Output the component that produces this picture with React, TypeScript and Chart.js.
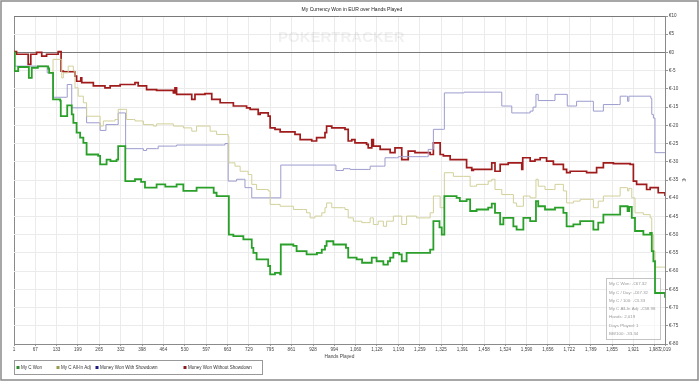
import React, { useEffect, useRef } from 'react';
import { Chart, registerables } from 'chart.js';
Chart.register(...registerables);

const chartTitle = 'My Currency Won in EUR over Hands Played';
const xAxisTitle = 'Hands Played';
const watermark = 'POKERTRACKER';

const xTickValues = [1, 67, 133, 199, 265, 332, 398, 464, 530, 597, 663, 729, 795, 861, 928, 994, 1060, 1126, 1193, 1259, 1325, 1391, 1458, 1524, 1590, 1656, 1722, 1789, 1855, 1921, 1987, 2019];

const seriesNames = ['My C Won', 'My C All-In Adj', 'Money Won With Showdown', 'Money Won Without Showdown'];
const lineColors = ['#2aa02a', '#d2d09a', '#9c9ccf', '#a01b1b'];
const swatchColors = ['#2e8b2e', '#9c9c4c', '#1c1c80', '#8c1c1c'];
const lineWidths = [1.8, 1, 1, 1.7];

const wonHands = [1, 3, 14, 45, 47, 54, 56, 66, 75, 97, 107, 110, 121, 122, 144, 146, 162, 166, 175, 180, 185, 195, 206, 216, 226, 262, 268, 283, 288, 300, 319, 324, 345, 346, 376, 395, 407, 443, 470, 505, 526, 545, 567, 608, 620, 629, 665, 667, 681, 712, 738, 743, 753, 784, 789, 795, 810, 826, 828, 867, 877, 908, 929, 940, 955, 965, 970, 985, 991, 1022, 1030, 1037, 1063, 1080, 1094, 1110, 1125, 1146, 1160, 1167, 1177, 1195, 1203, 1218, 1285, 1291, 1301, 1317, 1320, 1327, 1334, 1335, 1373, 1383, 1404, 1415, 1425, 1435, 1466, 1471, 1482, 1487, 1492, 1502, 1508, 1518, 1539, 1549, 1559, 1575, 1580, 1595, 1601, 1611, 1619, 1626, 1642, 1647, 1673, 1678, 1694, 1704, 1714, 1725, 1735, 1756, 1792, 1797, 1807, 1812, 1823, 1828, 1874, 1880, 1900, 1903, 1908, 1911, 1916, 1926, 1942, 1952, 1973, 1978, 1983, 1988, 2014, 2019];
const wonValues = [0, -5.1, -4.0, -4.0, -7.0, -7.0, -4.2, -4.2, -3.8, -3.8, -4.4, -5.6, -5.6, -12.9, -13.2, -17.5, -17.5, -14.5, -14.5, -17.0, -19.3, -22.0, -23.4, -24.8, -28.0, -28.4, -30.7, -30.7, -29.4, -29.8, -29.4, -25.7, -25.7, -35.3, -34.8, -35.5, -37.1, -36.2, -36.8, -36.2, -38.0, -38.0, -37.1, -37.1, -38.5, -39.4, -39.4, -50.0, -50.4, -51.3, -53.6, -55.0, -56.8, -56.8, -58.6, -60.9, -60.5, -60.9, -52.7, -53.1, -54.5, -55.4, -55.4, -55.0, -54.1, -53.1, -51.8, -51.8, -52.7, -52.7, -53.6, -56.3, -56.8, -57.7, -57.7, -56.3, -57.3, -58.2, -57.3, -56.3, -55.0, -55.4, -57.3, -55.0, -55.0, -54.1, -46.3, -46.3, -48.0, -50.0, -50.0, -39.4, -39.9, -40.8, -40.3, -43.5, -43.5, -43.1, -43.1, -42.6, -41.5, -41.5, -44.0, -44.0, -47.2, -45.4, -45.4, -47.7, -48.6, -48.6, -45.4, -45.4, -46.3, -46.3, -40.8, -42.2, -42.2, -43.1, -43.1, -42.6, -42.6, -44.0, -47.7, -47.7, -47.2, -46.3, -46.3, -48.6, -48.6, -46.7, -46.7, -44.5, -44.5, -42.2, -42.2, -43.5, -42.4, -42.4, -45.4, -49.0, -49.0, -50.0, -49.5, -54.5, -57.3, -66.0, -66.0, -67.3];

const allInHands = [1, 3, 14, 45, 47, 54, 56, 66, 75, 97, 107, 110, 121, 122, 144, 149, 154, 164, 169, 180, 185, 190, 200, 211, 216, 221, 226, 262, 268, 278, 309, 314, 319, 324, 345, 350, 371, 376, 392, 402, 423, 433, 443, 485, 495, 516, 526, 547, 552, 567, 598, 609, 619, 629, 660, 665, 667, 676, 686, 702, 722, 727, 733, 738, 753, 784, 789, 795, 815, 826, 857, 867, 898, 908, 919, 929, 934, 950, 955, 965, 970, 981, 986, 1022, 1027, 1037, 1043, 1053, 1063, 1079, 1094, 1105, 1110, 1115, 1125, 1130, 1141, 1146, 1156, 1167, 1177, 1198, 1203, 1218, 1234, 1249, 1280, 1291, 1301, 1311, 1322, 1332, 1335, 1353, 1363, 1394, 1415, 1425, 1435, 1466, 1471, 1482, 1487, 1492, 1508, 1513, 1539, 1549, 1559, 1575, 1580, 1595, 1601, 1611, 1619, 1626, 1642, 1647, 1673, 1678, 1694, 1704, 1709, 1714, 1725, 1735, 1756, 1792, 1797, 1807, 1812, 1823, 1828, 1874, 1880, 1900, 1903, 1907, 1911, 1916, 1926, 1942, 1952, 1973, 1978, 1983, 1988, 2014, 2019];
const allInValues = [0, -5.1, -4.0, -4.0, -7.0, -7.0, -4.2, -4.2, -3.8, -3.8, -4.4, -5.6, -5.6, -1.9, -1.9, -7.0, -5.6, -5.6, -3.75, -3.75, -5.1, -9.7, -12.0, -12.0, -13.8, -13.8, -17.5, -17.5, -20.2, -18.8, -18.8, -18.4, -18.4, -15.6, -15.6, -18.4, -18.4, -18.8, -18.8, -19.8, -19.8, -20.2, -19.6, -19.6, -20.2, -20.2, -20.7, -20.7, -21.6, -20.2, -20.2, -21.6, -21.6, -22.5, -22.5, -23.0, -30.3, -30.3, -31.2, -32.6, -32.6, -33.5, -33.5, -36.2, -37.6, -37.6, -38.0, -41.7, -41.7, -42.2, -42.2, -43.1, -43.1, -44.0, -45.4, -45.4, -44.9, -44.9, -44.0, -42.6, -41.3, -41.3, -42.6, -42.6, -43.1, -45.4, -45.4, -46.3, -46.3, -46.7, -46.7, -45.4, -45.4, -47.2, -47.2, -46.3, -46.3, -47.7, -46.3, -46.3, -44.9, -44.9, -47.2, -44.9, -44.9, -45.4, -45.4, -44.0, -39.4, -39.4, -42.6, -42.6, -33.0, -33.0, -34.0, -34.0, -36.7, -36.7, -36.2, -36.2, -35.3, -34.8, -34.8, -37.6, -37.6, -39.0, -39.0, -41.3, -42.2, -42.2, -39.4, -39.4, -39.9, -39.9, -34.8, -36.7, -36.7, -37.6, -37.6, -36.2, -36.2, -38.0, -38.0, -41.3, -41.3, -40.8, -40.3, -40.3, -42.6, -42.6, -40.8, -40.8, -39.4, -39.4, -37.1, -37.1, -38.0, -37.3, -37.3, -39.9, -44.0, -44.0, -44.5, -45.4, -50.0, -54.5, -58.9, -58.9, -59.0];

const showdownHands = [1, 4, 102, 104, 121, 123, 164, 166, 175, 180, 221, 226, 266, 268, 283, 286, 319, 324, 345, 347, 397, 402, 412, 443, 448, 495, 505, 650, 655, 665, 691, 712, 717, 733, 738, 826, 828, 996, 999, 1012, 1022, 1037, 1043, 1099, 1105, 1146, 1151, 1187, 1192, 1280, 1285, 1296, 1301, 1332, 1335, 1394, 1396, 1508, 1513, 1539, 1544, 1595, 1601, 1610, 1619, 1626, 1673, 1678, 1694, 1716, 1740, 1745, 1792, 1797, 1823, 1828, 1874, 1880, 1900, 1903, 1907, 1973, 1975, 1978, 1983, 1988, 2019];
const showdownValues = [0, -3.75, -3.75, -5.6, -5.6, -12.3, -12.3, -8.8, -8.8, -15.2, -15.2, -19.3, -19.3, -21.4, -21.4, -19.8, -19.8, -16.6, -16.6, -26.4, -26.4, -26.9, -26.4, -26.4, -25.7, -25.7, -25.4, -25.4, -25.0, -35.3, -34.8, -34.8, -37.1, -37.1, -39.9, -39.9, -30.9, -30.9, -32.4, -32.4, -31.9, -31.9, -32.1, -32.1, -31.2, -31.2, -28.9, -28.9, -28.6, -28.6, -26.6, -26.6, -21.1, -21.1, -11.1, -11.1, -10.9, -10.9, -14.7, -14.7, -16.6, -16.6, -16.1, -15.0, -11.5, -13.2, -13.2, -11.5, -11.5, -14.7, -14.7, -13.4, -13.4, -16.1, -16.1, -14.3, -14.3, -12.0, -12.0, -13.4, -12.0, -12.0, -12.6, -17.0, -18.0, -27.5, -27.5];

const noShowdownHands = [1, 9, 40, 45, 51, 53, 61, 71, 82, 87, 97, 102, 133, 138, 146, 147, 154, 185, 190, 195, 206, 208, 211, 237, 247, 278, 283, 299, 330, 371, 376, 381, 386, 402, 412, 433, 443, 485, 495, 500, 505, 547, 552, 562, 588, 593, 609, 614, 629, 640, 671, 681, 702, 722, 733, 753, 758, 764, 784, 789, 795, 805, 810, 815, 826, 867, 872, 888, 919, 924, 939, 960, 965, 970, 981, 986, 1022, 1027, 1037, 1048, 1053, 1058, 1084, 1094, 1099, 1105, 1110, 1115, 1125, 1136, 1156, 1167, 1177, 1182, 1192, 1203, 1213, 1223, 1234, 1244, 1280, 1291, 1301, 1311, 1322, 1332, 1353, 1394, 1404, 1415, 1420, 1425, 1477, 1482, 1487, 1492, 1502, 1508, 1528, 1533, 1570, 1575, 1578, 1595, 1601, 1611, 1616, 1626, 1632, 1647, 1652, 1663, 1673, 1694, 1704, 1709, 1714, 1725, 1766, 1776, 1797, 1807, 1818, 1828, 1849, 1859, 1900, 1911, 1921, 1931, 1952, 1962, 1973, 1993, 1998, 2014, 2019];
const noShowdownValues = [0.2, -0.5, -0.5, -3.3, -3.3, -0.5, -0.5, 0.0, 0.0, -1.0, -1.0, -0.5, -0.5, 0.2, 0.2, -5.1, -5.3, -5.3, -6.5, -7.9, -7.9, -7.0, -8.3, -8.3, -9.2, -9.2, -9.7, -9.2, -8.8, -8.8, -8.3, -8.3, -9.2, -9.2, -10.2, -10.2, -10.4, -10.4, -11.1, -9.7, -11.5, -11.5, -12.9, -11.5, -11.5, -11.3, -11.3, -12.9, -12.9, -13.8, -13.8, -14.7, -14.7, -15.2, -15.6, -15.6, -17.0, -16.6, -16.6, -17.5, -20.7, -20.7, -21.1, -21.1, -21.8, -21.8, -22.5, -23.9, -23.9, -24.3, -23.4, -23.4, -22.0, -20.2, -20.2, -20.7, -20.7, -21.1, -24.3, -23.9, -23.9, -24.8, -24.8, -25.2, -26.2, -26.2, -23.9, -25.7, -25.7, -26.6, -26.6, -27.5, -27.5, -26.2, -26.2, -29.4, -29.4, -27.1, -27.1, -27.5, -27.5, -28.0, -24.8, -24.8, -28.0, -28.4, -29.4, -29.4, -31.6, -31.6, -32.4, -32.1, -32.1, -30.3, -30.3, -32.6, -32.6, -30.7, -30.7, -30.3, -30.3, -32.1, -28.9, -28.9, -29.8, -29.8, -29.4, -29.4, -28.9, -28.9, -29.8, -29.8, -30.7, -30.7, -32.1, -32.1, -33.0, -32.6, -32.6, -33.0, -33.0, -31.6, -31.6, -30.3, -30.3, -30.5, -30.5, -30.7, -35.3, -36.2, -36.2, -37.6, -37.1, -37.1, -38.5, -38.5, -39.4];

const infoLines = ['My C Won: -€67.32', 'My C / Day: -€67.32', 'My C / 100: -€3.33', 'My C All-In Adj: -€58.98', 'Hands: 2,019', 'Days Played: 1', 'BB/100: -33.34'];

const FONT = '"Liberation Sans", Arial, sans-serif';

const seriesHands = [wonHands, allInHands, showdownHands, noShowdownHands];
const seriesValues = [wonValues, allInValues, showdownValues, noShowdownValues];

const decor = {
  id: 'decor',
  beforeDatasetsDraw(chart: any) {
    const { ctx } = chart;
    ctx.save();
    ctx.font = `bold 15px ${FONT}`;
    ctx.fillStyle = 'rgba(0,0,0,0.06)';
    ctx.textAlign = 'left';
    ctx.textBaseline = 'middle';
    ctx.fillText(watermark, 278, 38);
    // info box
    const bx = 606.5, by = 278.5, bw = 54, bh = 61;
    ctx.fillStyle = 'rgba(255,255,255,0.6)';
    ctx.fillRect(bx, by, bw, bh);
    ctx.strokeStyle = '#c4c4c4';
    ctx.lineWidth = 1;
    ctx.strokeRect(bx, by, bw, bh);
    ctx.font = `4.4px ${FONT}`;
    ctx.fillStyle = '#9a9a9a';
    infoLines.forEach((t, i) => ctx.fillText(t, 609, 284 + i * 8.3));
    ctx.restore();
  },
  afterDraw(chart: any) {
    const { ctx, chartArea: a } = chart;
    ctx.save();
    // outer frame
    ctx.strokeStyle = '#8a8a8a';
    ctx.lineWidth = 1.5;
    ctx.strokeRect(1, 1, 697, 379);
    // title
    ctx.fillStyle = '#222';
    ctx.font = `5px ${FONT}`;
    ctx.textAlign = 'center';
    ctx.textBaseline = 'middle';
    ctx.fillText(chartTitle, 352, 9.5);
    // x axis title
    ctx.fillStyle = '#444';
    ctx.font = `4.8px ${FONT}`;
    ctx.fillText(xAxisTitle, (a.left + a.right) / 2, 357);
    // y axis title (rotated)
    ctx.save();
    ctx.translate(684, (a.top + a.bottom) / 2);
    ctx.rotate(Math.PI / 2);
    ctx.font = `6px ${FONT}`;
    ctx.fillText('€', 0, 0);
    ctx.restore();
    // legend
    ctx.strokeStyle = '#999';
    ctx.lineWidth = 1;
    ctx.strokeRect(14.5, 360.5, 248, 14);
    const itemX = [16, 56, 95, 183];
    ctx.textAlign = 'left';
    ctx.font = `4.5px ${FONT}`;
    seriesNames.forEach((n, i) => {
      ctx.fillStyle = swatchColors[i];
      ctx.fillRect(itemX[i] + 0.5, 366, 3, 3);
      ctx.fillStyle = '#333';
      ctx.fillText(n, itemX[i] + 5, 367.8);
    });
    ctx.restore();
  },
};

export default function App() {
  const ref = useRef<HTMLCanvasElement | null>(null);
  useEffect(() => {
    document.body.style.margin = '0';
    const canvas = ref.current;
    if (!canvas) return;
    const datasets = seriesNames.map((name, i) => ({
      label: name,
      data: seriesHands[i].map((h, j) => ({ x: h, y: seriesValues[i][j] })),
      borderColor: lineColors[i],
      backgroundColor: lineColors[i],
      borderWidth: lineWidths[i],
      pointRadius: 0,
      stepped: true as const,
      tension: 0,
      fill: false,
    }));
    const chart = new Chart(canvas, {
      type: 'line',
      data: { datasets },
      options: {
        responsive: false,
        animation: false,
        events: [],
        layout: { padding: { left: 14, top: 16, right: 0, bottom: 0 } },
        plugins: { legend: { display: false }, title: { display: false }, tooltip: { enabled: false } },
        scales: {
          x: {
            type: 'linear',
            min: 1,
            max: 2019,
            afterBuildTicks: (s: any) => { s.ticks = xTickValues.map((v) => ({ value: v })); },
            afterFit: (s: any) => { s.height = 38; },
            ticks: {
              autoSkip: false,
              maxRotation: 0,
              padding: 1,
              color: '#444',
              font: { family: FONT, size: 4.6 },
              callback: (v: any) => Number(v).toLocaleString('en-US'),
            },
            grid: {
              color: (c: any) => (c.tick && c.tick.value === 1 ? '#8a8a8a' : '#ebebeb'),
              tickColor: '#999',
              tickLength: 2,
            },
            border: { color: '#8a8a8a' },
          },
          y: {
            position: 'right',
            min: -80,
            max: 10,
            afterFit: (s: any) => { s.width = 35; },
            ticks: {
              stepSize: 5,
              padding: 1,
              color: '#444',
              font: { family: FONT, size: 4.6 },
              callback: (v: any) => '€' + v,
            },
            grid: {
              color: (c: any) => (c.tick && (c.tick.value === 0 || c.tick.value === 10) ? '#7a7a7a' : '#ebebeb'),
              tickColor: '#999',
              tickLength: 3,
            },
            border: { color: '#8a8a8a' },
          },
        },
      },
      plugins: [decor],
    });
    return () => chart.destroy();
  }, []);
  return (
    <div style={{ position: 'absolute', left: 0, top: 0, width: 700, height: 382, background: '#fff' }}>
      <canvas ref={ref} width={700} height={382} style={{ width: 700, height: 382, display: 'block' }} />
    </div>
  );
}
